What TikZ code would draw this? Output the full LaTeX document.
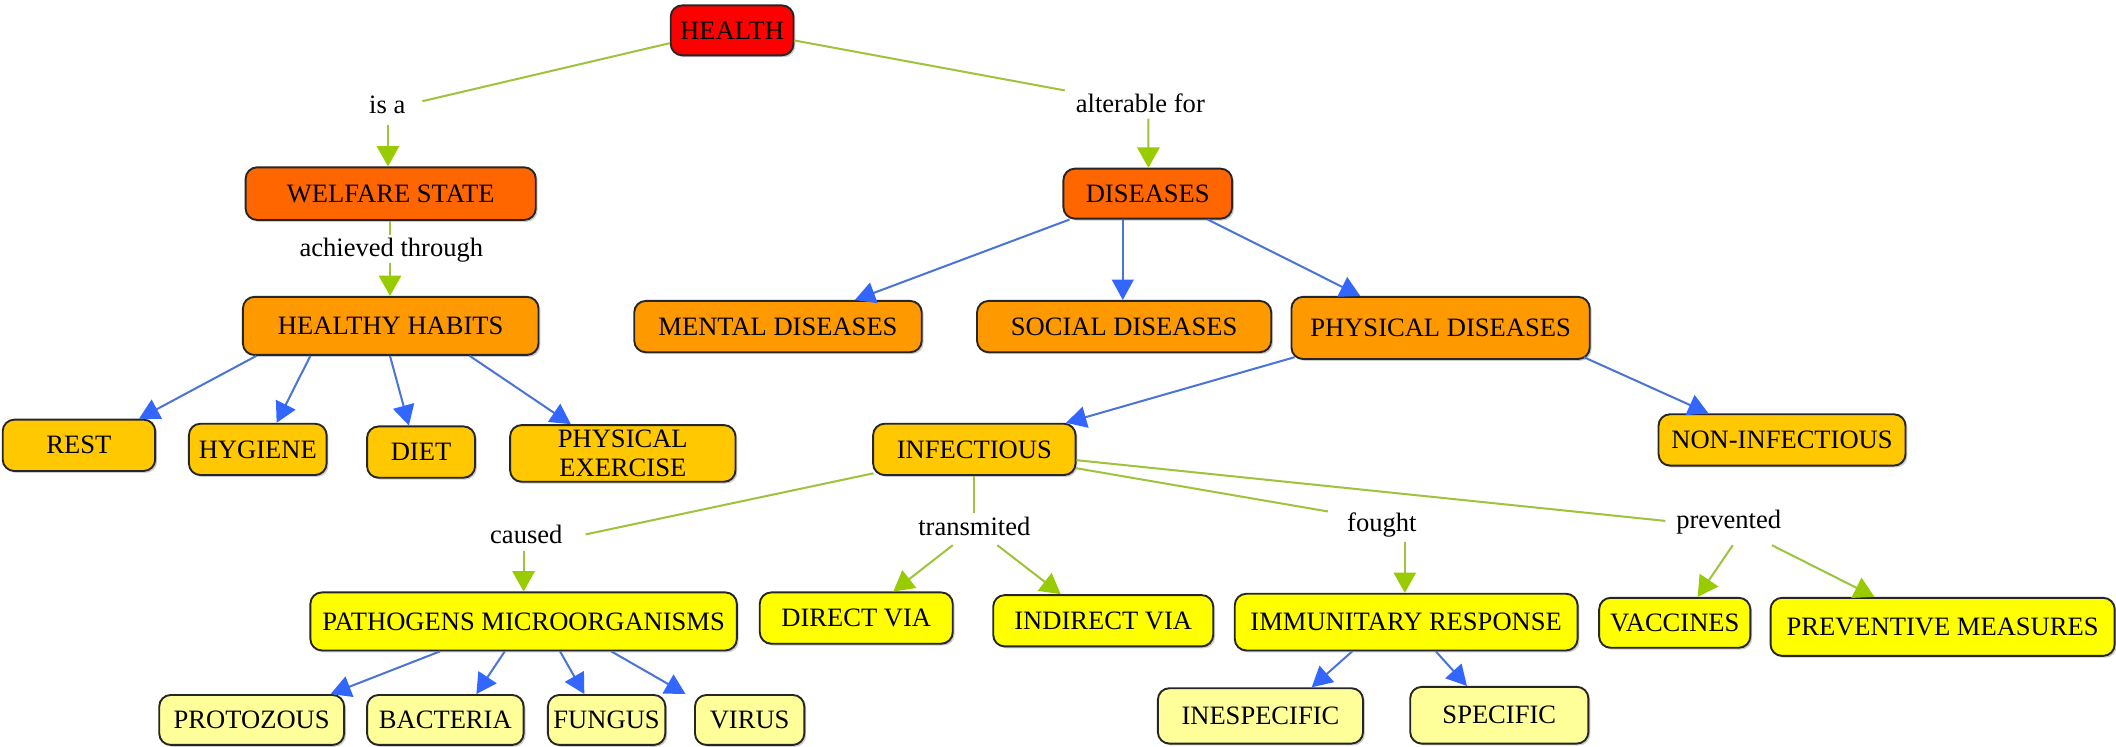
\documentclass[tikz,border=0pt]{standalone}
\usepackage{fontspec}
\setmainfont{Liberation Serif}
\usetikzlibrary{arrows.meta,calc,shadows}
\definecolor{cRed}{HTML}{FF0000}
\definecolor{cOrA}{HTML}{FF6600}
\definecolor{cOrB}{HTML}{FF9900}
\definecolor{cOrC}{HTML}{FFC800}
\definecolor{cYel}{HTML}{FFFF00}
\definecolor{cLYel}{HTML}{FFFF99}
\definecolor{cGreenL}{HTML}{9DC43C}
\definecolor{cGreenH}{HTML}{99CC00}
\definecolor{cBlueL}{HTML}{4A74D6}
\definecolor{cBlueH}{HTML}{3366FF}
\begin{document}
\begin{tikzpicture}[x=0.02cm,y=-0.02cm,
  cbox/.style n args={3}{draw=black!85, line width=0.8pt, rounded corners=0.17cm,
    fill=#1, minimum width=#2*0.02cm, minimum height=#3*0.02cm, inner sep=0pt,
    align=center, font=\fontsize{11.2}{12.2}\selectfont,
    drop shadow={shadow xshift=0.8pt, shadow yshift=-0.8pt, fill=black!40, opacity=0.5}},
  lbl/.style={anchor=base, inner sep=0pt, font=\fontsize{11.2}{12.2}\selectfont},
  gline/.style={draw=cGreenL, line width=0.85pt},
  garrow/.style={gline, -{Triangle[length=0.3cm,width=0.33cm,color=cGreenH]}},
  barrow/.style={draw=cBlueL, line width=0.85pt, -{Triangle[length=0.3cm,width=0.32cm,color=cBlueH]}},
]
\useasboundingbox[fill=white] (0,0) rectangle (1568,553);

% concept boxes
\node[cbox={cRed}{91}{37}] (health) at (542.5,22.5) {HEALTH};
\node[cbox={cOrA}{215}{39}] (welfare) at (289.5,143.5) {WELFARE STATE};
\node[cbox={cOrA}{125}{37}] (diseases) at (850.5,143.5) {DISEASES};
\node[cbox={cOrB}{219}{43}] (habits) at (289.5,241.5) {HEALTHY HABITS};
\node[cbox={cOrB}{213}{38}] (mental) at (576.5,242) {MENTAL DISEASES};
\node[cbox={cOrB}{218}{38}] (social) at (833,242) {SOCIAL DISEASES};
\node[cbox={cOrB}{221}{46}] (physical) at (1067.5,243) {PHYSICAL DISEASES};
\node[cbox={cOrC}{113}{38}] (rest) at (58.5,330) {REST};
\node[cbox={cOrC}{102}{38}] (hygiene) at (191,333) {HYGIENE};
\node[cbox={cOrC}{80}{38}] (diet) at (312,335) {DIET};
\node[cbox={cOrC}{167}{42}] (exercise) at (461.5,336) {PHYSICAL\\EXERCISE};
\node[cbox={cOrC}{150}{38}] (infectious) at (722,333) {INFECTIOUS};
\node[cbox={cOrC}{183}{38}] (noninf) at (1320.5,326) {NON-INFECTIOUS};
\node[cbox={cYel}{316}{43}] (pathogens) at (388,460.5) {PATHOGENS MICROORGANISMS};
\node[cbox={cYel}{143}{38}] (direct) at (634.5,458) {DIRECT VIA};
\node[cbox={cYel}{163}{38}] (indirect) at (817.5,460) {INDIRECT VIA};
\node[cbox={cYel}{254}{42}] (immun) at (1042,461) {IMMUNITARY RESPONSE};
\node[cbox={cYel}{112}{37}] (vaccines) at (1241,461.5) {VACCINES};
\node[cbox={cYel}{255}{43}] (preventive) at (1439.5,464.5) {PREVENTIVE MEASURES};
\node[cbox={cLYel}{137}{37}] (protozous) at (186.5,533.5) {PROTOZOUS};
\node[cbox={cLYel}{116}{37}] (bacteria) at (330,533.5) {BACTERIA};
\node[cbox={cLYel}{87}{37}] (fungus) at (449.5,533.5) {FUNGUS};
\node[cbox={cLYel}{81}{37}] (virus) at (555.5,533.5) {VIRUS};
\node[cbox={cLYel}{152}{41}] (inespecific) at (934,530.5) {INESPECIFIC};
\node[cbox={cLYel}{132}{42}] (specific) at (1111,530) {SPECIFIC};

% linking phrases
\node[lbl] (isa) at (287,84) {is a};
\node[lbl] (alterable) at (845,83.5) {alterable for};
\node[lbl] (achieved) at (290,190) {achieved through};
\node[lbl] (caused) at (390,403) {caused};
\node[lbl] (transmited) at (722,396.5) {transmited};
\node[lbl] (fought) at (1024,394) {fought};
\node[lbl] (prevented) at (1281,392) {prevented};

% green connectors
\draw[gline] ($(health.west)+(0,9.5)$) -- ($(isa.base)+(26,-9)$);
\draw[garrow] ($(isa.base)+(0.5,9)$) -- ($(welfare.north)+(-2,0)$);
\draw[gline] ($(health.east)+(0,7.5)$) -- ($(alterable.base)+(-56,-16.5)$);
\draw[garrow] ($(alterable.base)+(6,4.5)$) -- ($(diseases.north)+(0.5,0)$);
\draw[gline] ($(welfare.south)+(-0.5,0)$) -- ($(achieved.base)+(-1,-16)$);
\draw[garrow] ($(achieved.base)+(-1,5)$) -- ($(habits.north)+(-0.5,0)$);
\draw[gline] ($(infectious.south west)+(1,-2)$) -- ($(caused.base)+(44,-7)$);
\draw[garrow] ($(caused.base)+(-2,5)$) -- (pathogens.north);
\draw[gline] (infectious.south) -- ($(transmited.base)+(0,-16.5)$);
\draw[garrow] ($(transmited.base)+(-16,7.5)$) -- ($(direct.north)+(27.5,0)$);
\draw[garrow] ($(transmited.base)+(17,7.5)$) -- ($(indirect.north)+(-31.5,0)$);
\draw[gline] ($(infectious.east)+(0,14)$) -- ($(fought.base)+(-40,-15)$);
\draw[garrow] ($(fought.base)+(17,8)$) -- ($(immun.north)+(-1,0)$);
\draw[gline] ($(infectious.east)+(0,8)$) -- ($(prevented.base)+(-47,-6)$);
\draw[garrow] ($(prevented.base)+(3,12)$) -- ($(vaccines.north)+(17,0)$);
\draw[garrow] ($(prevented.base)+(32,12)$) -- ($(preventive.north)+(-50.5,0)$);

% blue connectors
\draw[barrow] ($(diseases.south)+(-58,0)$) -- ($(mental.north)+(57,0)$);
\draw[barrow] ($(diseases.south)+(-18.5,0)$) -- ($(social.north)+(-1,0)$);
\draw[barrow] ($(diseases.south)+(44.5,0)$) -- ($(physical.north)+(-59.5,0)$);
\draw[barrow] ($(habits.south)+(-99.5,0)$) -- ($(rest.north)+(44.5,0)$);
\draw[barrow] ($(habits.south)+(-59.5,0)$) -- ($(hygiene.north)+(14,0)$);
\draw[barrow] ($(habits.south)+(-0.5,0)$) -- ($(diet.north)+(-9,0)$);
\draw[barrow] ($(habits.south)+(58.5,0)$) -- ($(exercise.north)+(-38.5,0)$);
\draw[barrow] ($(physical.south west)+(3,-2)$) -- ($(infectious.north)+(68,0)$);
\draw[barrow] ($(physical.south east)+(-5,-2)$) -- ($(noninf.north)+(-54.5,0)$);
\draw[barrow] ($(pathogens.south)+(-62,0)$) -- ($(protozous.north)+(58.5,0)$);
\draw[barrow] ($(pathogens.south)+(-14,0)$) -- ($(bacteria.north)+(23,0)$);
\draw[barrow] ($(pathogens.south)+(27,0)$) -- ($(fungus.north)+(-16.5,0)$);
\draw[barrow] ($(pathogens.south)+(65,0)$) -- ($(virus.north)+(-47.5,0)$);
\draw[barrow] ($(immun.south)+(-40,0)$) -- ($(inespecific.north)+(38,0)$);
\draw[barrow] ($(immun.south)+(22,0)$) -- ($(specific.north)+(-24,0)$);
\end{tikzpicture}
\end{document}
